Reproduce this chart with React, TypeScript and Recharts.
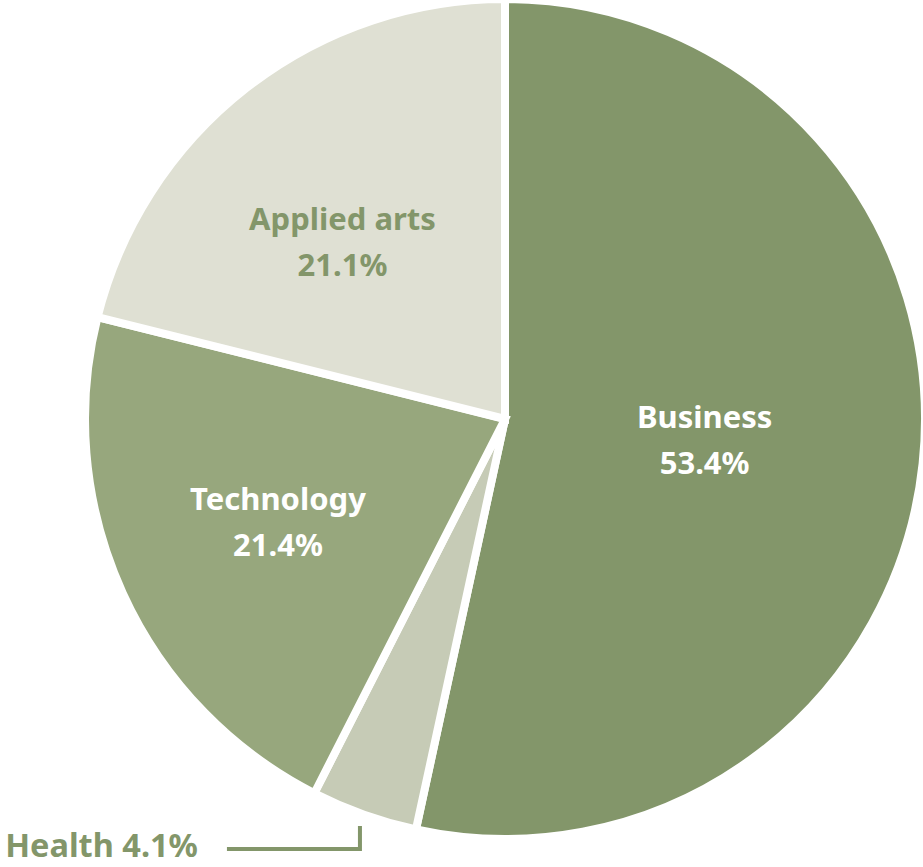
import { PieChart, Pie, Cell } from "recharts";

const categories = ["Business", "Health", "Technology", "Applied arts"];
const shares = [53.4, 4.1, 21.4, 21.1];
const sliceColors = ["#83966a", "#c6cbb6", "#97a77d", "#dfe0d3"];
const labelColors = ["#ffffff", "#83966a", "#ffffff", "#83966a"];

const data = categories.map((name, i) => ({ name, value: shares[i] }));

// where each inside label sits: fraction of radius and a small angle nudge
const labelPlace: Record<string, { r: number; da: number }> = {
  Business: { r: 0.478, da: 0 },
  Technology: { r: 0.594, da: 0 },
  "Applied arts": { r: 0.573, da: 4.5 },
};

const RAD = Math.PI / 180;
const FONT = "'Noto Sans', sans-serif";

const renderLabel = (props: any) => {
  const { cx, cy, midAngle, outerRadius, index, name, value } = props;

  if (name === "Health") {
    // label sits outside with an elbow leader line
    const cos = Math.cos(-midAngle * RAD);
    const sin = Math.sin(-midAngle * RAD);
    const x0 = cx + (outerRadius + 12) * cos;
    const y0 = cy + (outerRadius + 12) * sin;
    const yLine = y0 + 23;
    return (
      <g>
        <polyline
          points={`${x0},${y0} ${x0},${yLine} ${x0 - 133},${yLine}`}
          fill="none"
          stroke="#83966a"
          strokeWidth={4}
        />
        <text
          x={x0 - 162}
          y={yLine + 8}
          textAnchor="end"
          fill={labelColors[index]}
          fontFamily={FONT}
          fontWeight={700}
          fontSize={32.5}
        >
          {`${name} ${value.toFixed(1)}%`}
        </text>
      </g>
    );
  }

  const p = labelPlace[name] ?? { r: 0.5, da: 0 };
  const a = (midAngle + p.da) * RAD;
  const r = outerRadius * p.r;
  const x = cx + r * Math.cos(-a);
  const y = cy + r * Math.sin(-a);
  return (
    <text
      x={x}
      y={y}
      textAnchor="middle"
      fill={labelColors[index]}
      fontFamily={FONT}
      fontWeight={700}
      fontSize={31}
    >
      <tspan x={x} dy={-12}>
        {name}
      </tspan>
      <tspan x={x} dy={46}>
        {`${value.toFixed(1)}%`}
      </tspan>
    </text>
  );
};

export default function App() {
  return (
    <div style={{ position: "absolute", left: 0, top: 0, background: "#fff" }}>
      <PieChart width={923} height={867} margin={{ top: 0, right: 0, bottom: 0, left: 0 }}>
        <Pie
          data={data}
          dataKey="value"
          nameKey="name"
          cx={505}
          cy={419}
          outerRadius={420}
          startAngle={90}
          endAngle={-270}
          stroke="#ffffff"
          strokeWidth={8}
          label={renderLabel}
          labelLine={false}
          isAnimationActive={false}
        >
          {data.map((d, i) => (
            <Cell key={d.name} fill={sliceColors[i]} />
          ))}
        </Pie>
      </PieChart>
    </div>
  );
}
